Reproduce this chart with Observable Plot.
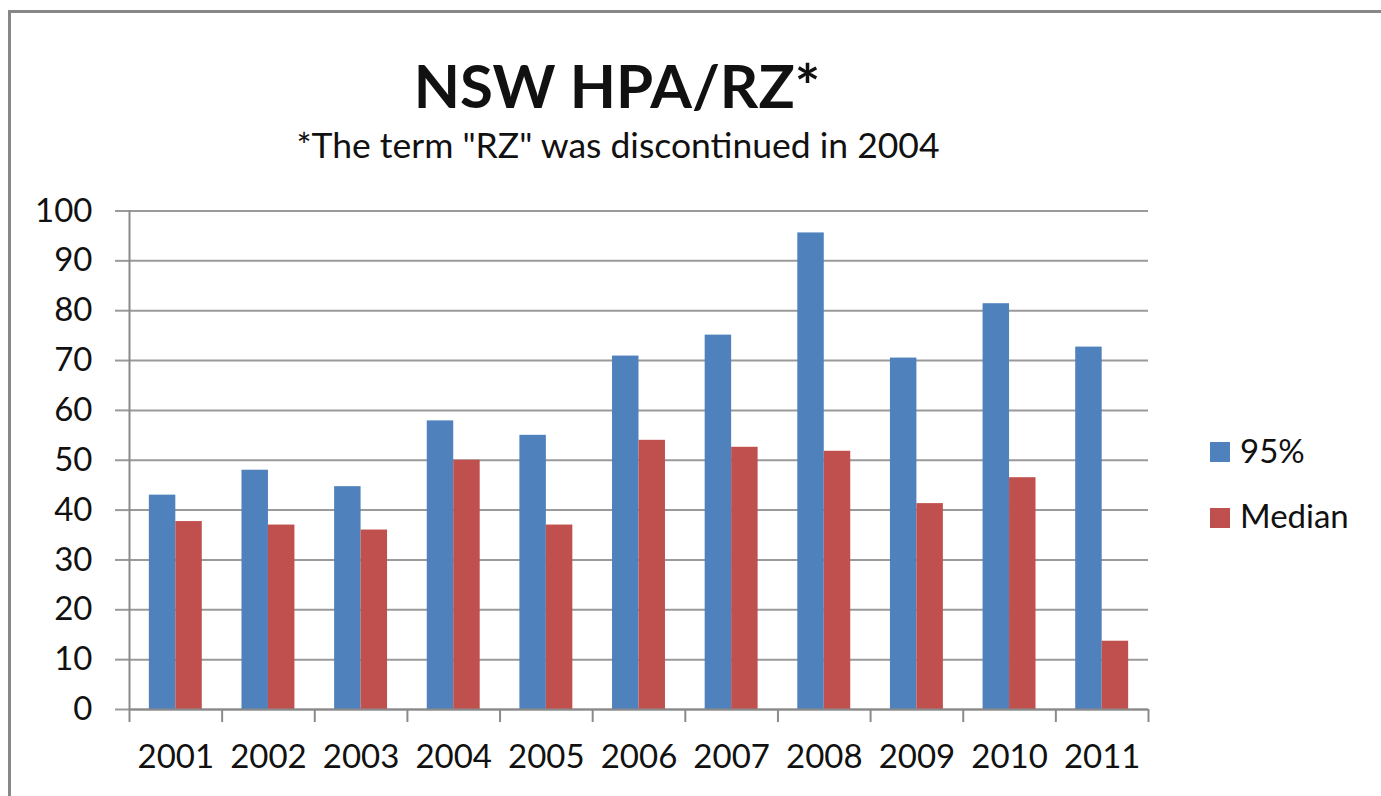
<!DOCTYPE html>
<html>
<head>
<meta charset="utf-8">
<script src="https://cdn.jsdelivr.net/npm/d3@7"></script>
<script src="https://cdn.jsdelivr.net/npm/@observablehq/plot@0.6"></script>
<style>
  html, body { margin: 0; padding: 0; background: #fff; }
  body { width: 1381px; height: 796px; position: relative; overflow: hidden; font-family: Lato, "Open Sans", sans-serif; color: #111; }
  #border { position: absolute; left: 8px; top: 10px; width: 1373px; height: 786px; border-left: 3px solid #878787; border-top: 3px solid #878787; box-sizing: border-box; }
  #title { position: absolute; left: 0; width: 1234px; text-align: center; font-weight: 700; font-size: 60px; line-height: 1; top: 55px; white-space: nowrap; }
  #subtitle { position: absolute; left: 0; width: 1236px; text-align: center; font-size: 35.5px; line-height: 1; top: 127px; white-space: nowrap; }
  #chart { position: absolute; left: 0; top: 180px; }
  .sw { position: absolute; left: 1210px; width: 20px; height: 20px; }
  .lt { position: absolute; left: 1240px; font-size: 33px; line-height: 1; white-space: nowrap; }
</style>
</head>
<body>
<div id="border"></div>
<div id="title">NSW HPA/RZ*</div>
<div id="subtitle">*The term "RZ" was discontinued in 2004</div>
<div id="chart"></div>
<div id="legend"></div>
<script>
const years = [2001, 2002, 2003, 2004, 2005, 2006, 2007, 2008, 2009, 2010, 2011];
const pct95 = [43.0, 48.0, 44.7, 57.9, 55.0, 70.9, 75.1, 95.6, 70.5, 81.4, 72.7];
const median = [37.7, 37.0, 36.0, 50.0, 37.0, 54.0, 52.6, 51.8, 41.3, 46.5, 13.7];
const seriesNames = ["95%", "Median"];
const seriesColors = ["#4F81BD", "#C0504D"];
const yTicks = [0, 10, 20, 30, 40, 50, 60, 70, 80, 90, 100];

// Excel-style clustered columns: gap width 150% => each bar is 1/3.5 of a category
const barW = 1 / 3.5;
const boundaries = [...years.map(y => y - 0.5), years[years.length - 1] + 0.5];

const rows = [];
years.forEach((yr, i) => {
  rows.push({year: yr, series: seriesNames[0], value: pct95[i], x1: yr - barW, x2: yr});
  rows.push({year: yr, series: seriesNames[1], value: median[i], x1: yr, x2: yr + barW});
});

const chart = Plot.plot({
  width: 1381,
  height: 616,
  marginLeft: 129,
  marginRight: 233,
  marginTop: 30.5,
  marginBottom: 87,
  style: {fontFamily: "Lato, 'Open Sans', sans-serif", color: "#111", background: "transparent", overflow: "visible"},
  x: {type: "linear", domain: [boundaries[0], boundaries[boundaries.length - 1]], axis: null},
  y: {domain: [0, 100], axis: null},
  color: {domain: seriesNames, range: seriesColors},
  marks: [
    Plot.gridY(yTicks, {stroke: "#9a9a9a", strokeWidth: 2, strokeOpacity: 1}),
    Plot.axisY({ticks: yTicks, label: null, tickSize: 14, tickPadding: 23, fontSize: 33, stroke: "#9a9a9a", strokeWidth: 2, tickFormat: d => String(d)}),
    Plot.rectY(rows, {x1: "x1", x2: "x2", y: "value", fill: "series"}),
    Plot.ruleX([boundaries[0]], {stroke: "#8a8a8a", strokeWidth: 2}),
    Plot.ruleY([0], {stroke: "#8a8a8a", strokeWidth: 2}),
    Plot.axisX({ticks: boundaries, label: null, tickSize: 13, tickFormat: () => "", stroke: "#8a8a8a", strokeWidth: 2}),
    Plot.axisX({ticks: years, label: null, tickSize: 0, tickPadding: 35, fontSize: 33, tickFormat: d => String(d)})
  ]
});
document.getElementById("chart").appendChild(chart);

// Legend
const legend = document.getElementById("legend");
const legTop = [442, 508];
const textTop = [434, 499];
seriesNames.forEach((name, i) => {
  const sw = document.createElement("div");
  sw.className = "sw";
  sw.style.top = legTop[i] + "px";
  sw.style.background = seriesColors[i];
  legend.appendChild(sw);
  const t = document.createElement("div");
  t.className = "lt";
  t.style.top = textTop[i] + "px";
  t.textContent = name;
  legend.appendChild(t);
});
</script>
</body>
</html>
